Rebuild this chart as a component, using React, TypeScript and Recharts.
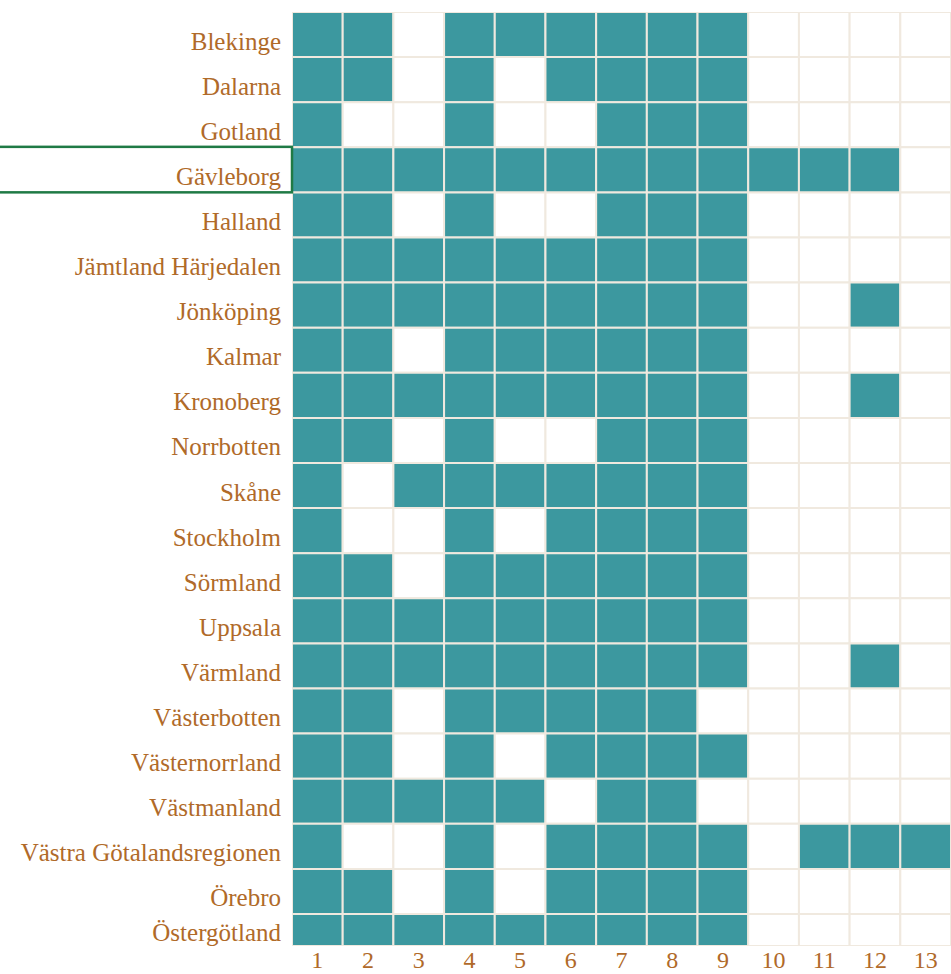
import { ComposedChart, XAxis, YAxis, ReferenceArea } from 'recharts'

const regions = [
  'Blekinge',
  'Dalarna',
  'Gotland',
  'Gävleborg',
  'Halland',
  'Jämtland Härjedalen',
  'Jönköping',
  'Kalmar',
  'Kronoberg',
  'Norrbotten',
  'Skåne',
  'Stockholm',
  'Sörmland',
  'Uppsala',
  'Värmland',
  'Västerbotten',
  'Västernorrland',
  'Västmanland',
  'Västra Götalandsregionen',
  'Örebro',
  'Östergötland',
]

const columns = [1, 2, 3, 4, 5, 6, 7, 8, 9, 10, 11, 12, 13]

// 1 = filled cell, one row per region, one entry per column
const presence = [
  [1, 1, 0, 1, 1, 1, 1, 1, 1, 0, 0, 0, 0],
  [1, 1, 0, 1, 0, 1, 1, 1, 1, 0, 0, 0, 0],
  [1, 0, 0, 1, 0, 0, 1, 1, 1, 0, 0, 0, 0],
  [1, 1, 1, 1, 1, 1, 1, 1, 1, 1, 1, 1, 0],
  [1, 1, 0, 1, 0, 0, 1, 1, 1, 0, 0, 0, 0],
  [1, 1, 1, 1, 1, 1, 1, 1, 1, 0, 0, 0, 0],
  [1, 1, 1, 1, 1, 1, 1, 1, 1, 0, 0, 1, 0],
  [1, 1, 0, 1, 1, 1, 1, 1, 1, 0, 0, 0, 0],
  [1, 1, 1, 1, 1, 1, 1, 1, 1, 0, 0, 1, 0],
  [1, 1, 0, 1, 0, 0, 1, 1, 1, 0, 0, 0, 0],
  [1, 0, 1, 1, 1, 1, 1, 1, 1, 0, 0, 0, 0],
  [1, 0, 0, 1, 0, 1, 1, 1, 1, 0, 0, 0, 0],
  [1, 1, 0, 1, 1, 1, 1, 1, 1, 0, 0, 0, 0],
  [1, 1, 1, 1, 1, 1, 1, 1, 1, 0, 0, 0, 0],
  [1, 1, 1, 1, 1, 1, 1, 1, 1, 0, 0, 1, 0],
  [1, 1, 0, 1, 1, 1, 1, 1, 0, 0, 0, 0, 0],
  [1, 1, 0, 1, 0, 1, 1, 1, 1, 0, 0, 0, 0],
  [1, 1, 1, 1, 1, 0, 1, 1, 0, 0, 0, 0, 0],
  [1, 0, 0, 1, 0, 1, 1, 1, 1, 0, 1, 1, 1],
  [1, 1, 0, 1, 0, 1, 1, 1, 1, 0, 0, 0, 0],
  [1, 1, 1, 1, 1, 1, 1, 1, 1, 0, 0, 0, 0],
]

const highlighted = 'Gävleborg'

const TEAL = '#3c989f'
const GRID = '#f0e9df'
const LABEL = '#b06a29'
const BOX = '#1f7a45'
const FONT = '"Liberation Serif", "Times New Roman", serif'

const rowCount = regions.length
// bottom row is cut off by the plot edge
const yMin = 0.29
const yTicks = regions.map((_, i) => (i === rowCount - 1 ? (yMin + 1) / 2 : rowCount - i - 0.5))
const regionAt = (v: number) => regions[rowCount - 1 - Math.floor(v)]

function RegionTick({ x, y, payload }: any) {
  const name = regionAt(payload.value)
  const last = name === regions[rowCount - 1]
  return (
    <g>
      {name === highlighted && (
        <rect x={-2} y={y - 23} width={x + 13} height={45.5} fill="none" stroke={BOX} strokeWidth={2.5} />
      )}
      <text x={x} y={y} dy={last ? 11 : 15} textAnchor="end" fill={LABEL} fontSize={25} fontFamily={FONT}>
        {name}
      </text>
    </g>
  )
}

function ColumnTick({ x, y, payload }: any) {
  return (
    <text x={x} y={y} dy={22} textAnchor="middle" fill={LABEL} fontSize={24} fontFamily={FONT}>
      {payload.value}
    </text>
  )
}

export default function App() {
  return (
    <div style={{ position: 'absolute', left: 0, top: 0, width: 951, height: 974, background: '#fff' }}>
      <ComposedChart width={951} height={974} data={[]} margin={{ top: 12, right: 0, bottom: 0, left: 0 }}>
        <XAxis
          type="number"
          dataKey="col"
          domain={[0.5, columns.length + 0.5]}
          ticks={columns}
          interval={0}
          allowDataOverflow
          axisLine={false}
          tickLine={false}
          tickSize={0}
          tickMargin={0}
          height={28}
          tick={<ColumnTick />}
        />
        <YAxis
          type="number"
          dataKey="row"
          domain={[yMin, rowCount]}
          ticks={yTicks}
          interval={0}
          allowDataOverflow
          axisLine={false}
          tickLine={false}
          tickSize={0}
          tickMargin={11}
          width={292}
          tick={<RegionTick />}
        />
        {regions.map((region, r) =>
          columns.map((col, c) => (
            <ReferenceArea
              key={`${region}-${col}`}
              x1={col - 0.5}
              x2={col + 0.5}
              y1={Math.max(rowCount - r - 1, yMin)}
              y2={rowCount - r}
              fill={presence[r][c] ? TEAL : '#ffffff'}
              fillOpacity={1}
              stroke={GRID}
              strokeWidth={2}
              ifOverflow="hidden"
            />
          ))
        )}
      </ComposedChart>
    </div>
  )
}
